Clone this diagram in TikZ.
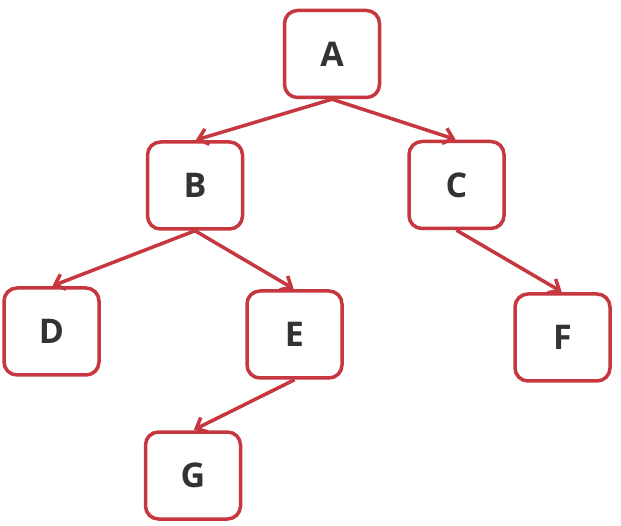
\documentclass[tikz,border=0pt]{standalone}
\usepackage{fontspec}
\setmainfont{Open Sans}
\usetikzlibrary{arrows.meta}
\definecolor{boxred}{HTML}{C6373F}
\definecolor{txt}{HTML}{333333}
\tikzset{
  treebox/.style={draw=boxred, line width=3.5pt, rounded corners=13pt, fill=white,
    minimum width=95pt, minimum height=87pt, inner sep=0pt,
    font=\fontsize{34}{38}\selectfont\bfseries, text=txt},
  link/.style={draw=boxred, line width=3.5pt, -{Straight Barb[length=9pt,width=16pt,line width=3.5pt]}, shorten >=1pt}
}
\begin{document}
\begin{tikzpicture}[x=1pt,y=-1pt]
\useasboundingbox (0,0) rectangle (621,526);
\node[treebox] (A) at (332,54) {A};
\node[treebox] (B) at (195,185.5) {B};
\node[treebox] (C) at (456.5,185) {C};
\node[treebox] (D) at (51.5,331.5) {D};
\node[treebox] (E) at (294.5,334.5) {E};
\node[treebox] (F) at (562.5,337.5) {F};
\node[treebox] (G) at (193,475.5) {G};
\draw[link] (A.south) -- (B.north);
\draw[link] (A.south) -- (C.north);
\draw[link] (B.south) -- (D.north);
\draw[link] (B.south) -- (E.north);
\draw[link] (C.south) -- (F.north);
\draw[link] (E.south) -- (G.north);
\end{tikzpicture}
\end{document}
